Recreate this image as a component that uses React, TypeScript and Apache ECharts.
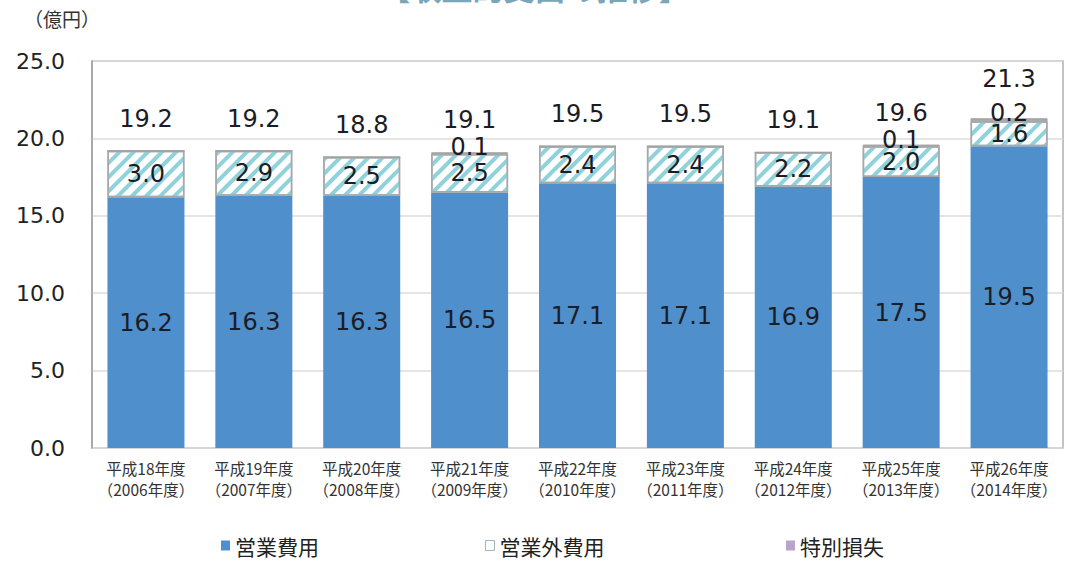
import React, { useEffect, useRef } from "react";
import * as echarts from "echarts";

const categories = [
  "平成18年度\n（2006年度）",
  "平成19年度\n（2007年度）",
  "平成20年度\n（2008年度）",
  "平成21年度\n（2009年度）",
  "平成22年度\n（2010年度）",
  "平成23年度\n（2011年度）",
  "平成24年度\n（2012年度）",
  "平成25年度\n（2013年度）",
  "平成26年度\n（2014年度）",
];
const operatingCost = [16.2, 16.3, 16.3, 16.5, 17.1, 17.1, 16.9, 17.5, 19.5];
const nonOperatingCost = [3.0, 2.9, 2.5, 2.5, 2.4, 2.4, 2.2, 2.0, 1.6];
const extraordinaryLoss = [0, 0, 0, 0.1, 0, 0, 0, 0.1, 0.2];
const totals = [19.2, 19.2, 18.8, 19.1, 19.5, 19.5, 19.1, 19.6, 21.3];
const seriesNames = ["営業費用", "営業外費用", "特別損失"];

const NUM_FONT = "'DejaVu Sans', 'Liberation Sans', sans-serif";
const JP_FONT = "'Noto Sans CJK JP', sans-serif";

const BLUE = "#4f8fcb";
const LOSS = "#aaa4b6";

export default function App() {
  const ref = useRef<HTMLDivElement>(null);
  useEffect(() => {
    document.body.style.margin = "0";
    if (!ref.current) return;
    const chart = echarts.init(ref.current, null, { renderer: "svg" });
    const numLabel = {
      fontFamily: NUM_FONT,
      fontSize: 24,
      color: "#1c1c24",
    };
    const legendBase = {
      top: 530,
      itemWidth: 9,
      itemHeight: 10,
      itemGap: 4,
      icon: "rect",
      textStyle: { fontFamily: JP_FONT, fontSize: 21, color: "#222" },
    };
    chart.setOption({
      animation: false,
      backgroundColor: "#ffffff",
      graphic: [
        {
          type: "text",
          left: "center",
          top: -29,
          style: {
            text: "【収益的支出の推移】",
            font: `bold 31px ${JP_FONT}`,
            fill: "#7aa6ba",
          },
        },
        {
          type: "text",
          left: 24,
          top: 9,
          style: {
            text: "（億円）",
            font: `19px ${JP_FONT}`,
            fill: "#333",
          },
        },
      ],
      grid: {
        left: 92,
        right: 6,
        top: 61,
        bottom: 113,
        show: true,
        borderColor: "#b0b0b0",
        borderWidth: 1.5,
      },
      legend: [
        {
          ...legendBase,
          left: 216,
          data: [{ name: seriesNames[0], itemStyle: { color: BLUE } }],
        },
        {
          ...legendBase,
          left: 480,
          data: [
            {
              name: seriesNames[1],
              itemStyle: { color: "#ffffff", borderColor: "#9fb8c0", borderWidth: 1, decal: "none" },
            },
          ],
        },
        {
          ...legendBase,
          left: 781,
          data: [{ name: seriesNames[2], itemStyle: { color: "#b9a4cc", borderWidth: 0 } }],
        },
      ],
      xAxis: {
        type: "category",
        data: categories,
        axisTick: { show: false },
        axisLine: {
          lineStyle: {
            color: "#8a8a8a",
            width: 2,
            shadowColor: "rgba(0,0,0,0.35)",
            shadowBlur: 4,
            shadowOffsetY: 3,
          },
        },
        axisLabel: {
          fontFamily: JP_FONT,
          fontSize: 15.5,
          color: "#333",
          lineHeight: 21,
          margin: 9,
          interval: 0,
        },
      },
      yAxis: {
        type: "value",
        min: 0,
        max: 25,
        interval: 5,
        axisLine: { show: true, lineStyle: { color: "#a0a0a0", width: 1.5 } },
        splitLine: { lineStyle: { color: "#dcdcdc", width: 1.5 } },
        axisLabel: {
          fontFamily: NUM_FONT,
          fontSize: 22,
          color: "#222",
          margin: 27,
          formatter: (v: number) => v.toFixed(1),
        },
      },
      series: [
        {
          name: seriesNames[0],
          type: "bar",
          stack: "total",
          barWidth: 77,
          data: operatingCost,
          itemStyle: { color: BLUE },
          label: {
            show: true,
            position: "inside",
            ...numLabel,
            formatter: (p: any) => Number(p.value).toFixed(1),
          },
        },
        {
          name: seriesNames[1],
          type: "bar",
          stack: "total",
          data: nonOperatingCost,
          itemStyle: {
            color: "#ffffff",
            borderColor: "#a8a8a8",
            borderWidth: 1.5,
            decal: {
              symbol: "rect",
              symbolSize: 1,
              color: "#8fd2dc",
              backgroundColor: "#ffffff",
              dashArrayX: [1, 0],
              dashArrayY: [4, 6],
              rotation: -Math.PI / 4,
            },
          },
          label: {
            show: true,
            position: "inside",
            ...numLabel,
            formatter: (p: any) => Number(p.value).toFixed(1),
          },
        },
        {
          name: seriesNames[2],
          type: "bar",
          stack: "total",
          data: extraordinaryLoss,
          itemStyle: { color: LOSS, borderColor: "#a0a0a0", borderWidth: 1 },
          label: {
            show: true,
            position: "top",
            distance: -7,
            ...numLabel,
            formatter: (p: any) => (p.value > 0 ? Number(p.value).toFixed(1) : ""),
          },
        },
        {
          name: "合計",
          type: "bar",
          stack: "total",
          data: totals.map((t, i) => ({
            value: 0,
            label: { distance: extraordinaryLoss[i] >= 0.2 ? 27 : 20 },
          })),
          itemStyle: { color: "transparent" },
          label: {
            show: true,
            position: "top",
            ...numLabel,
            formatter: (p: any) => totals[p.dataIndex].toFixed(1),
          },
        },
      ],
    });
    return () => chart.dispose();
  }, []);
  return <div ref={ref} style={{ width: 1069, height: 561 }} />;
}
